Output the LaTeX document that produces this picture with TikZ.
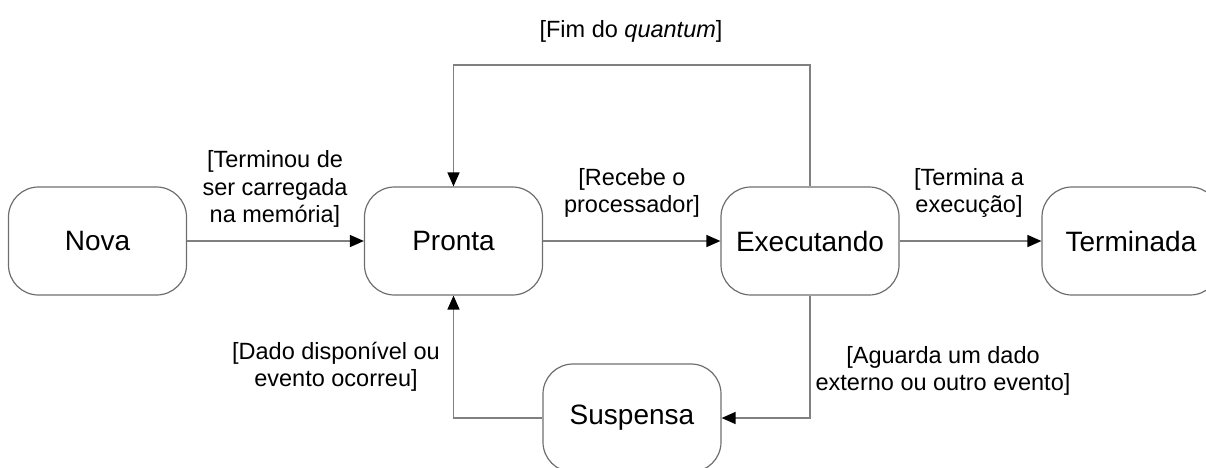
\documentclass[tikz,border=0pt]{standalone}
\usepackage{fontspec}
\setmainfont{Liberation Sans}
\usetikzlibrary{arrows.meta}

\definecolor{linegray}{RGB}{128,128,128}
\definecolor{boxgray}{RGB}{110,110,110}

\tikzset{
  state/.style={draw=boxgray, line width=1.2pt, rounded corners=30pt,
    minimum width=178pt, minimum height=108pt, inner sep=0pt,
    font=\fontsize{28}{33}\selectfont},
  trans/.style={draw=linegray, line width=1.5pt,
    -{Triangle[length=14pt,width=12pt,fill=black,color=black]}},
  guard/.style={align=center, inner sep=0pt,
    font=\fontsize{23.5}{27.5}\selectfont},
}

\begin{document}
\begin{tikzpicture}[x=1pt,y=-1pt]
  \useasboundingbox (0,0) rectangle (1206,467);
  \clip (0,0) rectangle (1206,467);

  % process states
  \node[state] (nova)  at (97.5,241) {Nova};
  \node[state] (pronta) at (453.5,241) {Pronta};
  \node[state] (exec)  at (810,241) {Executando};
  \node[state] (term)  at (1131,241) {Terminada};
  \node[state] (susp)  at (632,418) {Suspensa};

  % helper for the upper loop
  \coordinate (top) at (0,65);

  % transitions
  \draw[trans] (nova) -- (pronta);
  \draw[trans] (pronta) -- (exec);
  \draw[trans] (exec) -- (term);
  \draw[trans] (exec.north) -- (exec.north |- top) -| (pronta.north);
  \draw[trans] (exec.south) |- (susp.east);
  \draw[trans] (susp.west) -| (pronta.south);

  % guards
  \node[guard] (g1) at (275,189) {[Terminou de\\ser carregada\\na memória]};
  \node[guard] (g2) at (632,193) {[Recebe o\\processador]};
  \node[guard] (g3) at (969,193) {[Termina a\\execução]};
  \node[guard] (g4) at (631,31) {[Fim do \textit{quantum}]};
  \node[guard] (g5) at (336,367) {[Dado disponível ou\\evento ocorreu]};
  \node[guard] (g6) at (943,371) {[Aguarda um dado\\externo ou outro evento]};
\end{tikzpicture}
\end{document}
